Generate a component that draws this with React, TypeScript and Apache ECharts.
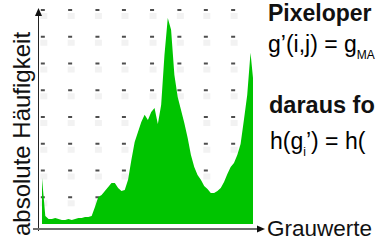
import React, { useEffect, useRef } from "react";
import * as echarts from "echarts";

// Grauwerte (x) and absolute Häufigkeit (y)
const grayLevels = [
  0, 4, 8, 12, 16, 20, 24, 28, 32, 36, 40, 44, 48, 52, 56, 60, 64, 68, 72, 76,
  80, 84, 88, 92, 96, 100, 104, 108, 112, 116, 120, 124, 128, 132, 136, 140,
  144, 148, 152, 156, 160, 164, 168, 172, 176, 180, 184, 188, 192, 196, 200,
  204, 208, 212, 216, 220, 224, 228, 232, 236, 240, 244, 248, 252, 255,
];
const counts = [
  1720, 300, 190, 190, 220, 190, 150, 150, 190, 150, 190, 220, 220, 260, 260,
  300, 640, 1010, 1080, 1230, 1380, 1530, 1530, 1350, 1230, 1270, 1650, 2390,
  3070, 3440, 3810, 4080, 3890, 4190, 4340, 3740, 4450, 6320, 7700, 7260, 5570,
  4750, 4260, 3780, 3220, 2580, 2130, 1830, 1650, 1420, 1310, 1160, 1160, 1230,
  1350, 1570, 1870, 2130, 2280, 2580, 2990, 3890, 4820, 6400, 5460,
];
// dotted background grid
const dotX = [1, 34, 67, 99, 133, 166, 198, 231];
const dotY = [1000, 2000, 3000, 4000, 5000, 6000, 7000, 8000];

const yLabel = "absolute Häufigkeit";
const xLabel = "Grauwerte";
// the visible parts of the slide text (the reference is cropped at its right edge)
const line1 = "Pixeloper";
const line2 = "{n|g’(i,j) = g}{s|MA}";
const line3 = "daraus fo";
const line4 = "{n|h(g}{s|i}{n|’) = h(}";

const FONT = "'Liberation Sans', Arial, sans-serif";

export default function App() {
  const ref = useRef<HTMLDivElement>(null);
  useEffect(() => {
    if (!ref.current) return;
    const chart = echarts.init(ref.current, undefined, { renderer: "svg" });
    const dots: number[][] = [];
    dotX.forEach((x) => dotY.forEach((y) => dots.push([x, y])));
    const hist = grayLevels.map((g, i) => [g, counts[i]]);
    const rich = {
      n: { fontSize: 23, fontFamily: FONT, color: "#111", lineHeight: 34 },
      s: { fontSize: 12, fontFamily: FONT, color: "#111", lineHeight: 12, verticalAlign: "bottom" },
    };
    chart.setOption({
      animation: false,
      backgroundColor: "#ffffff",
      grid: { left: 42, right: 123, top: 10, bottom: 16 },
      xAxis: { type: "value", min: 0, max: 255, show: false },
      yAxis: { type: "value", min: 0, max: 8000, interval: 1000, show: false },
      series: [
        {
          type: "scatter",
          data: dots,
          symbol: "rect",
          symbolSize: [7, 6],
          symbolOffset: [1, 6],
          itemStyle: { color: "#efefef" },
          silent: true,
          z: 1,
        },
        {
          type: "scatter",
          data: dots,
          symbol: "rect",
          symbolSize: [4, 2],
          itemStyle: { color: "#222222" },
          silent: true,
          z: 2,
        },
        {
          type: "line",
          data: hist,
          showSymbol: false,
          lineStyle: { width: 0 },
          areaStyle: { color: "#00c400", opacity: 1 },
          z: 3,
        },
      ],
      graphic: [
        {
          type: "line",
          shape: { x1: 38.5, y1: 231, x2: 38.5, y2: 14 },
          style: { stroke: "#222", lineWidth: 1 },
          z: 10,
        },
        {
          type: "polygon",
          shape: { points: [[38.5, 8], [35, 16], [42, 16]] },
          style: { fill: "#111" },
          z: 10,
        },
        {
          type: "line",
          shape: { x1: 33, y1: 229, x2: 258, y2: 229 },
          style: { stroke: "#6e6e6e", lineWidth: 2 },
          z: 10,
        },
        {
          type: "polygon",
          shape: { points: [[265, 229], [257, 225.5], [257, 232.5]] },
          style: { fill: "#111" },
          z: 10,
        },
        {
          type: "text",
          x: 21,
          y: 134,
          rotation: Math.PI / 2,
          style: {
            text: yLabel,
            font: `24px ${FONT}`,
            fill: "#111",
            align: "center",
            verticalAlign: "middle",
          },
          z: 10,
        },
        {
          type: "text",
          x: 267,
          y: 228,
          style: {
            text: xLabel,
            font: `22.5px ${FONT}`,
            fill: "#111",
            align: "left",
            verticalAlign: "middle",
          },
          z: 10,
        },
        {
          type: "text",
          x: 268,
          y: 12.5,
          style: {
            text: line1,
            font: `bold 23px ${FONT}`,
            fill: "#111",
            align: "left",
            verticalAlign: "middle",
          },
          z: 10,
        },
        {
          type: "text",
          x: 268,
          y: 44,
          style: { text: line2, align: "left", verticalAlign: "middle", rich },
          z: 10,
        },
        {
          type: "text",
          x: 269,
          y: 105,
          style: {
            text: line3,
            font: `bold 23.5px ${FONT}`,
            fill: "#111",
            align: "left",
            verticalAlign: "middle",
          },
          z: 10,
        },
        {
          type: "text",
          x: 270,
          y: 141,
          style: { text: line4, align: "left", verticalAlign: "middle", rich },
          z: 10,
        },
      ],
    });
    return () => chart.dispose();
  }, []);
  return (
    <div
      ref={ref}
      style={{ position: "fixed", left: 0, top: 0, width: 376, height: 240 }}
    />
  );
}
